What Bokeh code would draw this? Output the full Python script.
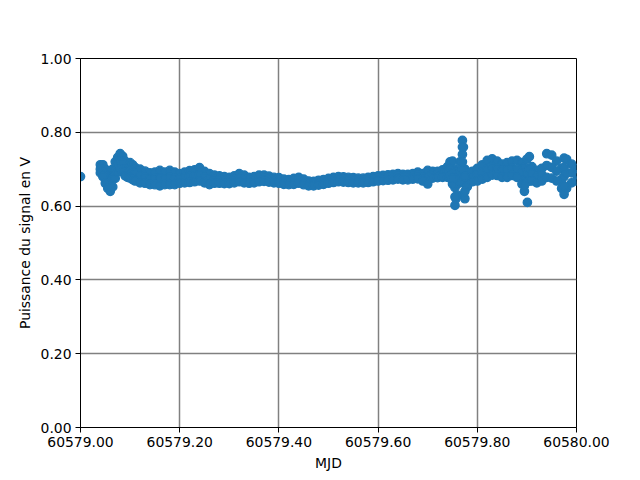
from bokeh.plotting import figure
from bokeh.models import Range1d, FixedTicker, PrintfTickFormatter, ColumnDataSource
from bokeh.embed import file_html
from bokeh.resources import INLINE

# MJD sampling of the signal band
mjd = [60579.040, 60579.045, 60579.050, 60579.055, 60579.060, 60579.065, 60579.070, 60579.075,
       60579.080, 60579.085, 60579.090, 60579.095, 60579.100, 60579.105, 60579.110, 60579.120,
       60579.130, 60579.140, 60579.150, 60579.160, 60579.170, 60579.180, 60579.190, 60579.200,
       60579.210, 60579.220, 60579.230, 60579.240, 60579.250, 60579.260, 60579.270, 60579.280,
       60579.290, 60579.300, 60579.310, 60579.320, 60579.330, 60579.340, 60579.350, 60579.360,
       60579.370, 60579.380, 60579.390, 60579.400, 60579.410, 60579.420, 60579.430, 60579.440,
       60579.450, 60579.460, 60579.470, 60579.480, 60579.490, 60579.500, 60579.510, 60579.520,
       60579.530, 60579.540, 60579.550, 60579.560, 60579.570, 60579.580, 60579.590, 60579.600,
       60579.610, 60579.620, 60579.630, 60579.640, 60579.650, 60579.660, 60579.670, 60579.680,
       60579.690, 60579.700, 60579.710, 60579.720, 60579.730, 60579.740, 60579.745, 60579.750,
       60579.755, 60579.760, 60579.765, 60579.770, 60579.775, 60579.780, 60579.790, 60579.800,
       60579.810, 60579.820, 60579.830, 60579.840, 60579.850, 60579.860, 60579.870, 60579.880,
       60579.890, 60579.895, 60579.900, 60579.905, 60579.910, 60579.920, 60579.930, 60579.940,
       60579.950, 60579.960, 60579.970, 60579.975, 60579.980, 60579.990, 60580.000]

signal_high = [0.712, 0.712, 0.700, 0.685, 0.672, 0.700, 0.720, 0.732,
               0.742, 0.735, 0.722, 0.712, 0.718, 0.712, 0.705, 0.700,
               0.695, 0.690, 0.692, 0.697, 0.692, 0.697, 0.692, 0.688,
               0.692, 0.696, 0.698, 0.704, 0.694, 0.688, 0.684, 0.682,
               0.680, 0.678, 0.682, 0.688, 0.684, 0.678, 0.680, 0.684,
               0.684, 0.681, 0.678, 0.677, 0.673, 0.672, 0.675, 0.678,
               0.673, 0.668, 0.667, 0.670, 0.672, 0.675, 0.678, 0.680,
               0.679, 0.678, 0.677, 0.676, 0.676, 0.678, 0.680, 0.682,
               0.683, 0.685, 0.686, 0.688, 0.686, 0.686, 0.688, 0.692,
               0.688, 0.697, 0.694, 0.694, 0.698, 0.707, 0.720, 0.722,
               0.700, 0.695, 0.720, 0.778, 0.700, 0.692, 0.694, 0.702,
               0.712, 0.724, 0.728, 0.722, 0.714, 0.718, 0.722, 0.724,
               0.718, 0.705, 0.727, 0.734, 0.707, 0.697, 0.702, 0.742,
               0.738, 0.722, 0.702, 0.730, 0.727, 0.714, 0.702]

signal_mid = [0.700, 0.695, 0.680, 0.665, 0.655, 0.675, 0.700, 0.712,
              0.722, 0.715, 0.700, 0.695, 0.698, 0.692, 0.688, 0.682,
              0.678, 0.674, 0.675, 0.676, 0.674, 0.678, 0.675, 0.675,
              0.677, 0.680, 0.682, 0.685, 0.678, 0.673, 0.672, 0.671,
              0.670, 0.669, 0.672, 0.676, 0.673, 0.670, 0.671, 0.675,
              0.675, 0.673, 0.670, 0.669, 0.666, 0.665, 0.667, 0.670,
              0.665, 0.662, 0.661, 0.663, 0.666, 0.668, 0.671, 0.673,
              0.672, 0.671, 0.670, 0.669, 0.669, 0.671, 0.673, 0.675,
              0.676, 0.678, 0.679, 0.680, 0.679, 0.679, 0.680, 0.683,
              0.678, 0.678, 0.685, 0.686, 0.688, 0.692, 0.700, 0.690,
              0.650, 0.660, 0.690, 0.740, 0.660, 0.672, 0.680, 0.685,
              0.692, 0.700, 0.705, 0.702, 0.696, 0.698, 0.702, 0.700,
              0.690, 0.670, 0.690, 0.700, 0.688, 0.680, 0.685, 0.710,
              0.705, 0.695, 0.672, 0.680, 0.690, 0.690, 0.685]

signal_low = [0.690, 0.680, 0.662, 0.648, 0.640, 0.652, 0.675, 0.692,
              0.700, 0.692, 0.682, 0.678, 0.676, 0.672, 0.668, 0.663,
              0.662, 0.658, 0.658, 0.655, 0.658, 0.658, 0.658, 0.662,
              0.663, 0.664, 0.666, 0.668, 0.663, 0.658, 0.662, 0.662,
              0.661, 0.661, 0.663, 0.666, 0.663, 0.662, 0.663, 0.666,
              0.667, 0.665, 0.663, 0.662, 0.659, 0.658, 0.659, 0.662,
              0.658, 0.655, 0.655, 0.657, 0.659, 0.662, 0.664, 0.666,
              0.665, 0.664, 0.663, 0.663, 0.663, 0.664, 0.666, 0.668,
              0.669, 0.670, 0.671, 0.673, 0.671, 0.671, 0.673, 0.674,
              0.668, 0.660, 0.676, 0.677, 0.678, 0.678, 0.680, 0.660,
              0.602, 0.630, 0.668, 0.700, 0.620, 0.653, 0.666, 0.668,
              0.673, 0.678, 0.684, 0.683, 0.678, 0.678, 0.683, 0.678,
              0.660, 0.640, 0.666, 0.668, 0.668, 0.663, 0.668, 0.678,
              0.676, 0.668, 0.648, 0.632, 0.648, 0.663, 0.668]

# isolated points and spike interiors
mjd_extra = [60579.000, 60579.901, 60579.772, 60579.757, 60579.755, 60579.755,
             60579.770, 60579.770, 60579.775, 60579.775, 60579.895, 60579.975,
             60579.975, 60579.750]
signal_extra = [0.680, 0.610, 0.760, 0.620, 0.625, 0.675,
                0.760, 0.720, 0.640, 0.680, 0.655, 0.655,
                0.705, 0.675]

y_ticks = [0.0, 0.2, 0.4, 0.6, 0.8, 1.0]
x_ticks = [60579.0, 60579.2, 60579.4, 60579.6, 60579.8, 60580.0]

xs = mjd + mjd + mjd + mjd_extra
ys = signal_high + signal_mid + signal_low + signal_extra
src = ColumnDataSource(dict(x=xs, y=ys))

W, H = 640, 480
p = figure(width=W, height=H, output_backend="svg", toolbar_location=None,
           x_range=Range1d(60579.0, 60580.0), y_range=Range1d(0.0, 1.0),
           min_border_left=80, min_border_right=W - 576,
           min_border_top=58, min_border_bottom=H - 427)

blue = "#1f77b4"
p.scatter("x", "y", source=src, size=8.3, fill_color=blue, line_color=blue, line_width=1.4)

p.xaxis.ticker = FixedTicker(ticks=x_ticks)
p.yaxis.ticker = FixedTicker(ticks=y_ticks)
p.xaxis.formatter = PrintfTickFormatter(format="%.2f")
p.yaxis.formatter = PrintfTickFormatter(format="%.2f")

for ax in (p.xaxis[0], p.yaxis[0]):
    ax.major_tick_out = 5
    ax.major_tick_in = 0
    ax.minor_tick_out = 0
    ax.minor_tick_in = 0
    ax.major_label_standoff = 4
    ax.axis_line_color = "black"
    ax.major_tick_line_color = "black"
    ax.major_label_text_color = "black"
    ax.major_label_text_font = "DejaVu Sans"
    ax.major_label_text_font_size = "13.9px"
    ax.axis_label_text_font = "DejaVu Sans"
    ax.axis_label_text_font_size = "13.9px"
    ax.axis_label_text_font_style = "normal"
    ax.axis_label_text_color = "black"
    ax.axis_label_standoff = 5

p.xaxis.axis_label = "MJD"
p.yaxis.axis_label = "Puissance du signal en V"

p.xgrid.ticker = FixedTicker(ticks=x_ticks)
p.ygrid.ticker = FixedTicker(ticks=y_ticks)
for g in (p.xgrid[0], p.ygrid[0]):
    g.grid_line_color = "#808080"
    g.grid_line_alpha = 1.0
    g.grid_line_width = 1.5

p.outline_line_color = "black"
p.outline_line_width = 1
p.outline_line_alpha = 1.0
p.background_fill_color = "white"
p.border_fill_color = "white"

open("out.html", "w").write(file_html(p, INLINE))
